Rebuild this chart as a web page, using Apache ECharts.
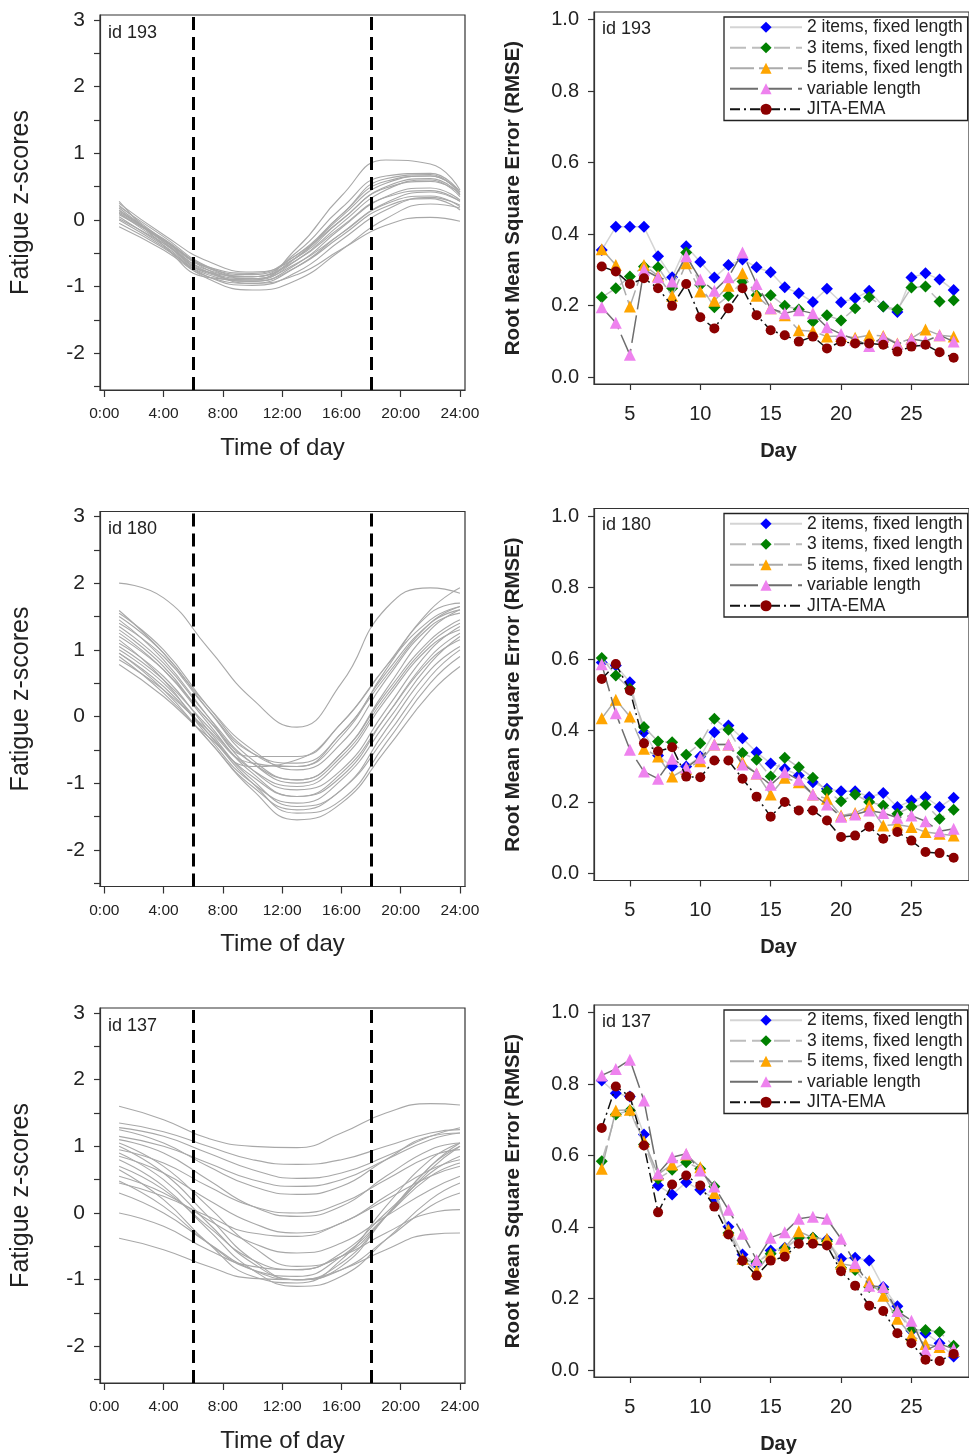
<!DOCTYPE html>
<html>
<head>
<meta charset="utf-8">
<script src="https://cdn.jsdelivr.net/npm/echarts@6/dist/echarts.min.js"></script>
<style>html,body{margin:0;padding:0;background:#fff}#c{width:969px;height:1456px}</style>
</head>
<body>
<div id="c"></div>
<script>
// ---------- data ----------
const hours = [1, 4, 7, 10, 13, 16, 19, 22, 24];
const curves193 = [
  [0.28,-0.38,-0.86,-0.90,-0.42,0.36,0.90,0.84,0.45],
  [0.22,-0.30,-0.75,-0.85,-0.55,0.08,0.58,0.66,0.42],
  [0.18,-0.32,-0.78,-0.88,-0.56,0.05,0.55,0.66,0.42],
  [0.15,-0.30,-0.72,-0.82,-0.52,0.08,0.62,0.68,0.38],
  [0.10,-0.35,-0.80,-0.90,-0.60,-0.05,0.45,0.60,0.35],
  [0.05,-0.38,-0.82,-0.92,-0.66,-0.12,0.35,0.48,0.30],
  [0.12,-0.28,-0.70,-0.80,-0.52,0.00,0.50,0.62,0.38],
  [0.00,-0.40,-0.85,-0.95,-0.70,-0.20,0.26,0.42,0.28],
  [-0.05,-0.42,-0.85,-0.98,-0.78,-0.30,0.15,0.34,0.22],
  [-0.10,-0.45,-0.88,-1.05,-0.90,-0.45,0.02,0.24,0.18],
  [0.08,-0.30,-0.75,-0.95,-0.82,-0.44,-0.08,0.04,-0.02],
  [0.20,-0.25,-0.70,-0.85,-0.60,-0.10,0.34,0.44,0.28],
  [0.25,-0.22,-0.62,-0.78,-0.56,0.00,0.48,0.58,0.40],
  [0.02,-0.35,-0.78,-0.92,-0.70,-0.24,0.20,0.32,0.15],
  [0.14,-0.33,-0.78,-0.85,-0.48,0.18,0.66,0.70,0.42],
  [0.10,-0.30,-0.72,-0.88,-0.65,-0.20,0.24,0.36,0.20]
];
const curves180 = [
  [2.00,1.78,1.03,0.26,-0.16,0.50,1.62,1.93,1.85],
  [1.59,0.95,0.15,-0.50,-0.80,-0.40,0.55,1.35,1.55],
  [1.50,0.95,0.10,-0.65,-0.95,-0.55,0.40,1.30,1.60],
  [1.45,0.85,0.00,-0.80,-1.10,-0.80,0.10,1.00,1.35],
  [1.35,0.80,0.00,-0.70,-1.00,-0.60,0.30,1.10,1.40],
  [1.25,0.70,-0.10,-0.85,-1.20,-0.90,0.00,0.90,1.25],
  [1.20,0.70,-0.05,-0.70,-0.95,-0.55,0.35,1.15,1.45],
  [1.10,0.60,-0.20,-0.95,-1.35,-1.10,-0.20,0.70,1.05],
  [1.05,0.55,-0.15,-0.80,-1.05,-0.65,0.25,1.05,1.30],
  [1.00,0.50,-0.25,-1.00,-1.45,-1.25,-0.40,0.50,0.90],
  [0.95,0.45,-0.25,-0.90,-1.20,-0.85,0.00,0.85,1.15],
  [0.90,0.35,-0.35,-1.10,-1.55,-1.30,-0.50,0.35,0.75],
  [0.85,0.40,-0.20,-0.70,-0.75,-0.25,0.60,1.40,1.65],
  [0.78,0.30,-0.30,-0.75,-0.65,-0.10,0.75,1.60,1.93],
  [1.30,0.75,-0.05,-0.60,-0.60,-0.10,0.75,1.45,1.65],
  [1.15,0.55,-0.30,-1.00,-1.30,-0.95,-0.10,0.80,1.20],
  [1.40,0.90,0.10,-0.55,-0.70,-0.25,0.65,1.40,1.60],
  [0.95,0.40,-0.35,-1.05,-1.40,-1.10,-0.30,0.60,1.00],
  [1.55,1.00,0.15,-0.55,-0.75,-0.30,0.70,1.55,1.70]
];
const curves137 = [
  [1.60,1.40,1.12,1.00,0.98,1.20,1.50,1.64,1.62],
  [1.35,1.22,1.00,0.80,0.73,0.80,1.00,1.20,1.25],
  [1.28,1.15,0.90,0.65,0.52,0.60,0.85,1.15,1.28],
  [1.25,1.05,0.70,0.40,0.28,0.40,0.80,1.15,1.20],
  [1.10,0.90,0.50,0.10,-0.05,0.10,0.55,0.95,1.05],
  [1.05,0.70,0.10,-0.50,-0.80,-0.65,-0.05,0.65,1.00],
  [1.00,0.60,-0.05,-0.70,-1.00,-0.80,-0.05,0.70,1.05],
  [0.95,0.75,0.40,0.10,0.00,0.15,0.50,0.85,0.95],
  [0.90,0.50,-0.15,-0.75,-1.00,-0.75,-0.05,0.70,1.00],
  [0.80,0.40,-0.25,-0.85,-1.10,-0.95,-0.40,0.20,0.45],
  [0.70,0.35,-0.20,-0.70,-0.85,-0.60,0.00,0.60,0.85],
  [0.55,0.30,-0.10,-0.45,-0.60,-0.45,-0.05,0.35,0.55],
  [0.48,0.10,-0.45,-0.85,-0.95,-0.65,-0.05,0.55,0.75],
  [0.45,0.25,-0.05,-0.30,-0.35,-0.15,0.20,0.55,0.70],
  [0.00,-0.20,-0.55,-0.80,-0.85,-0.65,-0.30,0.00,0.05],
  [-0.38,-0.55,-0.80,-0.98,-1.00,-0.85,-0.55,-0.32,-0.30],
  [1.15,1.00,0.75,0.50,0.40,0.50,0.80,1.10,1.20],
  [0.65,0.20,-0.45,-0.95,-1.05,-0.70,0.10,0.80,1.05],
  [0.85,0.60,0.20,-0.15,-0.30,-0.15,0.25,0.65,0.80],
  [0.30,0.00,-0.45,-0.85,-1.00,-0.85,-0.40,0.10,0.30]
];

const days = [3,4,5,6,7,8,9,10,11,12,13,14,15,16,17,18,19,20,21,22,23,24,25,26,27,28];
const seriesNames = ['2 items, fixed length','3 items, fixed length','5 items, fixed length','variable length','JITA-EMA'];

const rmse193 = [
  [0.355,0.42,0.42,0.42,0.338,0.279,0.366,0.322,0.278,0.313,0.329,0.307,0.293,0.251,0.234,0.21,0.247,0.209,0.22,0.241,0.197,0.182,0.278,0.29,0.273,0.243],
  [0.223,0.248,0.281,0.309,0.307,0.248,0.348,0.257,0.195,0.227,0.267,0.229,0.229,0.199,0.189,0.155,0.173,0.158,0.192,0.223,0.197,0.189,0.25,0.253,0.211,0.215],
  [0.357,0.313,0.197,0.313,0.283,0.227,0.318,0.239,0.213,0.255,0.29,0.227,0.192,0.173,0.131,0.128,0.113,0.115,0.11,0.117,0.115,0.094,0.108,0.133,0.117,0.113],
  [0.195,0.152,0.062,0.3,0.279,0.267,0.338,0.273,0.241,0.279,0.348,0.26,0.192,0.178,0.187,0.178,0.139,0.12,0.105,0.087,0.112,0.092,0.106,0.1,0.117,0.099],
  [0.309,0.295,0.26,0.276,0.248,0.199,0.26,0.167,0.136,0.192,0.248,0.173,0.131,0.117,0.099,0.113,0.08,0.099,0.094,0.094,0.09,0.071,0.085,0.09,0.069,0.054]
];
const rmse180 = [
  [0.59,0.582,0.535,0.395,0.33,0.299,0.299,0.327,0.395,0.414,0.378,0.339,0.308,0.293,0.274,0.255,0.237,0.23,0.23,0.214,0.225,0.186,0.204,0.214,0.186,0.212],
  [0.603,0.554,0.517,0.41,0.369,0.367,0.332,0.364,0.433,0.402,0.337,0.318,0.271,0.324,0.297,0.268,0.23,0.202,0.221,0.2,0.19,0.167,0.187,0.193,0.153,0.178],
  [0.434,0.486,0.439,0.349,0.327,0.271,0.293,0.314,0.361,0.361,0.311,0.28,0.221,0.268,0.255,0.221,0.209,0.162,0.169,0.19,0.134,0.137,0.13,0.116,0.111,0.106],
  [0.585,0.448,0.346,0.285,0.265,0.321,0.296,0.324,0.361,0.361,0.305,0.28,0.248,0.283,0.262,0.221,0.193,0.159,0.165,0.176,0.169,0.156,0.162,0.146,0.118,0.125],
  [0.544,0.586,0.512,0.364,0.342,0.353,0.271,0.269,0.316,0.316,0.265,0.215,0.159,0.2,0.176,0.176,0.148,0.102,0.106,0.131,0.097,0.116,0.092,0.06,0.057,0.044]
];
const rmse137 = [
  [0.81,0.774,0.765,0.659,0.516,0.491,0.525,0.504,0.479,0.401,0.323,0.297,0.334,0.342,0.37,0.37,0.364,0.311,0.314,0.306,0.232,0.178,0.11,0.103,0.075,0.038],
  [0.584,0.715,0.726,0.631,0.535,0.56,0.581,0.563,0.513,0.383,0.306,0.302,0.325,0.339,0.37,0.37,0.36,0.286,0.28,0.232,0.225,0.162,0.112,0.112,0.106,0.068],
  [0.563,0.726,0.728,0.64,0.547,0.575,0.603,0.567,0.495,0.392,0.311,0.277,0.325,0.342,0.388,0.37,0.367,0.297,0.29,0.248,0.208,0.143,0.097,0.073,0.064,0.054],
  [0.824,0.842,0.868,0.754,0.55,0.595,0.605,0.558,0.513,0.448,0.381,0.308,0.37,0.385,0.423,0.429,0.423,0.367,0.299,0.236,0.232,0.165,0.138,0.055,0.073,0.059],
  [0.677,0.793,0.765,0.628,0.441,0.519,0.544,0.516,0.457,0.379,0.306,0.264,0.306,0.317,0.353,0.353,0.348,0.276,0.236,0.18,0.165,0.103,0.075,0.029,0.025,0.045]
];

const panelIds = ['id 193', 'id 180', 'id 137'];
const timeTicks = [0, 4, 8, 12, 16, 20, 24];
const zTicks = [-2.5,-2,-1.5,-1,-0.5,0,0.5,1,1.5,2,2.5,3];
const zLabels = [-2,-1,0,1,2,3];
const dayTicks = [5, 10, 15, 20, 25];
const rmseTicks = [0, 0.2, 0.4, 0.6, 0.8, 1.0];
const markerLines = [6, 18];

// ---------- chart ----------
const FONT = '"Liberation Sans", Arial, sans-serif';
const INK = '#222';
const leftTops = [15, 511.5, 1008];
const rightTops = [12, 508.5, 1005];
const curveSets = [curves193, curves180, curves137];
const rmseSets = [rmse193, rmse180, rmse137];

const seriesStyle = [
  {symbol:'diamond', size:12, color:'#0000ff', line:'#d4d4d4', type:'solid', width:1.5},
  {symbol:'diamond', size:12, color:'#008000', line:'#bdbdbd', type:[16,6], width:1.5},
  {symbol:'triangle', size:12, color:'#ffa500', line:'#ababab', type:[24,5], width:1.5},
  {symbol:'triangle', size:12, color:'#ee82ee', line:'#6e6e6e', type:[28,6], width:1.5},
  {symbol:'circle', size:10, color:'#8b0000', line:'#111111', type:[10,4,2,4], width:1.5}
];

const grids = [], xAxes = [], yAxes = [], series = [], titles = [], legends = [];

panelIds.forEach((pid, r) => {
  const lt = leftTops[r], rt = rightTops[r];
  const gl = grids.length;
  grids.push({left:100, top:lt, width:365, height:375, show:true, borderColor:'#333', borderWidth:1.2, backgroundColor:'#fff'});
  const gr = grids.length;
  grids.push({left:594, top:rt, width:385, height:372, show:true, borderColor:'#333', borderWidth:1.2, backgroundColor:'#fff'});

  xAxes.push({
    gridIndex: gl, type:'value', min:-0.29, max:24.34,
    axisLine:{show:true, onZero:false, lineStyle:{color:'#333', width:1.2}},
    axisTick:{show:true, length:7, customValues: timeTicks, lineStyle:{color:'#333', width:1.2}},
    axisLabel:{customValues: timeTicks, formatter: v => v + ':00', fontSize:15.5, color:INK, margin:16, fontFamily:FONT},
    splitLine:{show:false},
    name:'Time of day', nameLocation:'middle', nameGap:46,
    nameTextStyle:{fontSize:24, color:INK, fontFamily:FONT}
  });
  yAxes.push({
    gridIndex: gl, type:'value', min:-2.55, max:3.075,
    axisLine:{show:true, onZero:false, lineStyle:{color:'#333', width:1.2}},
    axisTick:{show:true, length:6, customValues: zTicks, lineStyle:{color:'#333', width:1.2}},
    axisLabel:{customValues: zLabels, fontSize:21, color:INK, margin:15, fontFamily:FONT},
    splitLine:{show:false},
    name:'Fatigue z-scores', nameLocation:'middle', nameGap:66,
    nameTextStyle:{fontSize:25, color:INK, fontFamily:FONT}
  });
  xAxes.push({
    gridIndex: gr, type:'value', min:2.45, max:29.09,
    axisLine:{show:true, onZero:false, lineStyle:{color:'#333', width:1.2}},
    axisTick:{show:true, length:6, customValues: dayTicks, lineStyle:{color:'#333', width:1.2}},
    axisLabel:{customValues: dayTicks, fontSize:20, color:INK, margin:20, fontFamily:FONT},
    splitLine:{show:false},
    name:'Day', nameLocation:'middle', nameGap:57,
    nameTextStyle:{fontSize:20, fontWeight:'bold', color:INK, fontFamily:FONT, padding:[0,6,0,0]}
  });
  yAxes.push({
    gridIndex: gr, type:'value', min:-0.0196, max:1.021,
    axisLine:{show:true, onZero:false, lineStyle:{color:'#333', width:1.2}},
    axisTick:{show:true, length:6, customValues: rmseTicks, lineStyle:{color:'#333', width:1.2}},
    axisLabel:{customValues: rmseTicks, formatter: v => v.toFixed(1), fontSize:20, color:INK, margin:15, fontFamily:FONT},
    splitLine:{show:false},
    name:'Root Mean Square Error (RMSE)', nameLocation:'middle', nameGap:70,
    nameTextStyle:{fontSize:20.5, fontWeight:'bold', color:INK, fontFamily:FONT}
  });

  const xl = xAxes.length - 2, yl = yAxes.length - 2;
  const xr = xAxes.length - 1, yr = yAxes.length - 1;

  curveSets[r].forEach((vals, k) => {
    const s = {
      type:'line', xAxisIndex:xl, yAxisIndex:yl, smooth:0.5, showSymbol:false, symbol:'none',
      silent:true, animation:false,
      lineStyle:{color:'#a8a8a8', width:1.1},
      data: hours.map((h, i) => [h, vals[i]])
    };
    if (k === 0) {
      s.markLine = {
        silent:true, animation:false, symbol:['none','none'],
        label:{show:false},
        lineStyle:{color:'#000', width:3, type:[13,7]},
        data: markerLines.map(v => ({xAxis:v}))
      };
    }
    series.push(s);
  });

  rmseSets[r].forEach((vals, k) => {
    const st = seriesStyle[k];
    series.push({
      type:'line', name: seriesNames[k], xAxisIndex:xr, yAxisIndex:yr,
      symbol: st.symbol, symbolSize: st.size, showSymbol:true, animation:false,
      itemStyle:{color: st.color},
      lineStyle:{color: st.line, width: st.width, type: st.type},
      z: 3 + k,
      data: days.map((d, i) => [d, vals[i]])
    });
  });

  titles.push({text: pid, left:103, top: lt + 4, textStyle:{fontSize:18, fontWeight:'normal', color:INK, fontFamily:FONT}});
  titles.push({text: pid, left:597, top: rt + 3, textStyle:{fontSize:18, fontWeight:'normal', color:INK, fontFamily:FONT}});

  legends.push({
    orient:'vertical', left:724, top: rt + 5,
    itemWidth:72, itemHeight:14, itemGap:0,
    padding:[0,5,1,5],
    borderColor:'#222', borderWidth:1.3, backgroundColor:'#fff',
    selectedMode:false,
    textStyle:{fontSize:17.5, lineHeight:20.5, height:20.5, color:INK, fontFamily:FONT},
    data: seriesNames
  });
});

const chart = echarts.init(document.getElementById('c'), null, {renderer:'canvas'});
chart.setOption({
  backgroundColor:'#fff',
  animation:false,
  textStyle:{fontFamily:FONT},
  title: titles,
  legend: legends,
  grid: grids,
  xAxis: xAxes,
  yAxis: yAxes,
  series: series
});
</script>
</body>
</html>
